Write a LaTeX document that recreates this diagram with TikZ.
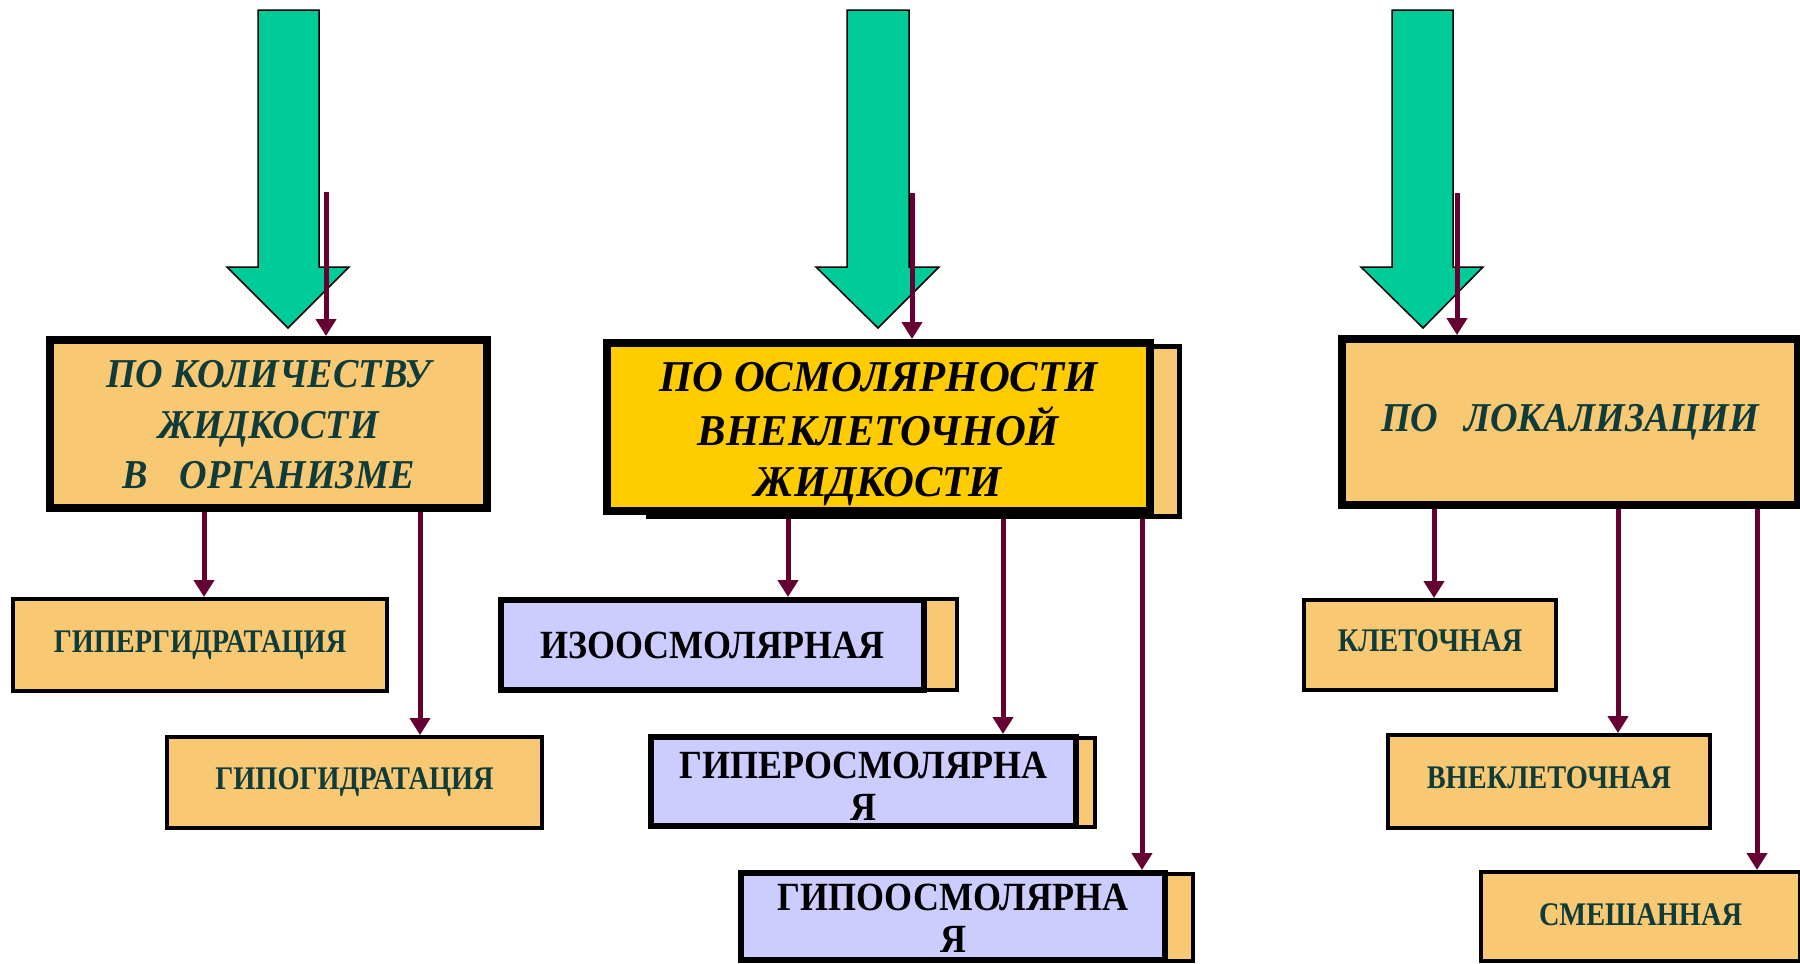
\documentclass[tikz,border=0pt]{standalone}
\usepackage{fontspec}
\setmainfont{Liberation Serif}
\newfontfamily\fA[FakeStretch=0.93]{Liberation Serif}
\newfontfamily\fB[FakeStretch=0.97]{Liberation Serif}
\newfontfamily\fK[FakeStretch=0.86]{Liberation Serif}
\newfontfamily\fL[FakeStretch=0.9]{Liberation Serif}
\usetikzlibrary{arrows.meta}
\definecolor{orng}{HTML}{F8C873}
\definecolor{gold}{HTML}{FFCC00}
\definecolor{lav}{HTML}{CCCCFF}
\definecolor{grn}{HTML}{00CC99}
\definecolor{maroon}{HTML}{660033}
\definecolor{teal}{HTML}{0F3C3A}
\newcommand{\mlines}[2]{\raisebox{#1}[\height][\depth]{\begin{tabular}{@{}c@{}}#2\end{tabular}}}
\tikzset{
  box/.style={draw=black, inner sep=0pt, anchor=center, align=center},
  headbox/.style={box, line width=8pt, font=\fA\bfseries\itshape\fontsize{41pt}{50.5pt}\selectfont},
  kidbox/.style={box, fill=orng, line width=4pt, text=teal, font=\fK\bfseries\fontsize{33pt}{38pt}\selectfont},
  lavbox/.style={box, fill=lav, line width=6pt, font=\fL\bfseries\fontsize{40pt}{42pt}\selectfont},
  shadowbox/.style={box, fill=orng, line width=4pt},
  greenarrow/.style={fill=grn, draw=black, line width=1.5pt, line join=miter},
  conn/.style={draw=maroon, line width=5pt, -{Triangle[width=20pt,length=17pt]}}
}
\begin{document}
\begin{tikzpicture}[x=1pt,y=-1pt]
\useasboundingbox (0,0) rectangle (1800,964);
\fill[white] (0,0) rectangle (1800,964);
\clip (0,0) rectangle (1800,964);

% green arrows
\path[greenarrow] (258,10) -- (319,10) -- (319,267) -- (349,267) -- (288,328) -- (227,267) -- (258,267) -- cycle;
\path[greenarrow] (847,10) -- (909,10) -- (909,267) -- (939,267) -- (878,328) -- (816,267) -- (847,267) -- cycle;
\path[greenarrow] (1392,10) -- (1453,10) -- (1453,267) -- (1483,267) -- (1423,328) -- (1361,267) -- (1392,267) -- cycle;

% head boxes
\node[headbox, fill=orng, text=teal, minimum width=437pt, minimum height=168pt] (b1) at (268.5,424)
  {\mlines{-4pt}{ПО КОЛИЧЕСТВУ\\ЖИДКОСТИ\\В\hspace{32pt}ОРГАНИЗМЕ}};
\node[shadowbox, line width=5pt, minimum width=531pt, minimum height=170pt] (s2) at (914,431.5) {};
\node[headbox, fill=gold, text=black, font=\fB\bfseries\itshape\fontsize{44pt}{50.5pt}\selectfont,
  minimum width=543pt, minimum height=168pt] (b2) at (878.5,427)
  {\mlines{-7pt}{ПО ОСМОЛЯРНОСТИ\\ВНЕКЛЕТОЧНОЙ\\ЖИДКОСТИ}};
\node[headbox, fill=orng, text=teal, minimum width=456pt, minimum height=166pt] (b3) at (1570,422)
  {ПО\hspace{26pt}ЛОКАЛИЗАЦИИ};

% top connectors
\coordinate (t1) at (326,192);
\coordinate (t2) at (912,193);
\coordinate (t3) at (1457,193);
\draw[conn] (t1) -- (t1 |- b1.north);
\draw[conn] (t2) -- (t2 |- b2.north);
\draw[conn] (t3) -- (t3 |- b3.north);

% left children
\node[kidbox, minimum width=374pt, minimum height=92pt] (c1) at (200,645) {\raisebox{7pt}{ГИПЕРГИДРАТАЦИЯ}};
\node[kidbox, minimum width=375pt, minimum height=91pt] (c2) at (354.5,782.5) {\raisebox{8pt}{ГИПОГИДРАТАЦИЯ}};

% middle children
\node[shadowbox, minimum width=415pt, minimum height=91pt] (ms1) at (749.5,644.5) {};
\node[lavbox, minimum width=423pt, minimum height=90pt] (m1) at (712.5,645) {ИЗООСМОЛЯРНАЯ};
\node[shadowbox, minimum width=403pt, minimum height=89pt] (ms2) at (893.5,782.5) {};
\node[lavbox, minimum width=425pt, minimum height=89pt] (m2) at (863.5,781.5) {\mlines{-10pt}{ГИПЕРОСМОЛЯРНА\\Я}};
\node[shadowbox, minimum width=411pt, minimum height=87pt] (ms3) at (987.5,917.5) {};
\node[lavbox, minimum width=424pt, minimum height=87pt] (m3) at (953,916.5) {\mlines{-7pt}{ГИПООСМОЛЯРНА\\Я}};

% right children
\node[kidbox, minimum width=252pt, minimum height=90pt] (r1) at (1430,645) {\raisebox{8pt}{КЛЕТОЧНАЯ}};
\node[kidbox, minimum width=322pt, minimum height=93pt] (r2) at (1549,781.5) {\raisebox{8pt}{ВНЕКЛЕТОЧНАЯ}};
\node[kidbox, minimum width=319pt, minimum height=89pt] (r3) at (1640.5,916.5) {\raisebox{4pt}{СМЕШАННАЯ}};

% connectors
\draw[conn] (b1.south -| 204,0) -- (c1.north -| 204,0);
\draw[conn] (b1.south -| 420,0) -- (c2.north -| 420,0);
\draw[conn] (s2.south -| 788,0) -- (m1.north -| 788,0);
\draw[conn] (s2.south -| 1003,0) -- (m2.north -| 1003,0);
\draw[conn] (s2.south -| 1142,0) -- (m3.north -| 1142,0);
\draw[conn] (b3.south -| 1434,0) -- (r1.north -| 1434,0);
\draw[conn] (b3.south -| 1618,0) -- (r2.north -| 1618,0);
\draw[conn] (b3.south -| 1757,0) -- (r3.north -| 1757,0);
\end{tikzpicture}
\end{document}
